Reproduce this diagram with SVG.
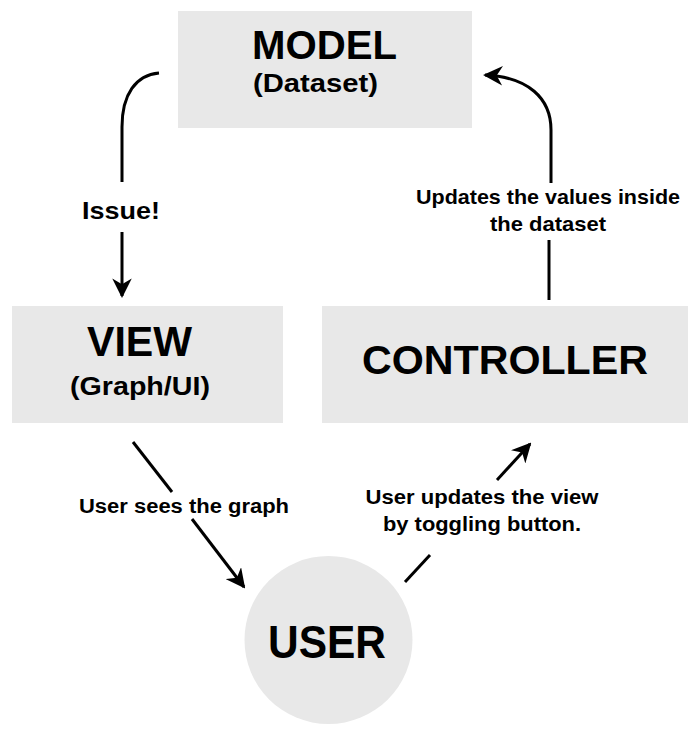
<svg xmlns="http://www.w3.org/2000/svg" width="700" height="750" viewBox="0 0 700 750">
  <style>
    .box { fill: #e8e8e8; }
    text { font-family: "Liberation Sans", Arial, sans-serif; font-weight: bold; fill: #000; text-anchor: middle; }
    .line { fill: none; stroke: #000; stroke-width: 3; }
  </style>
  <defs>
    <marker id="arrow" viewBox="0 0 10 10" refX="9" refY="5" markerWidth="6.5" markerHeight="6.5" markerUnits="strokeWidth" orient="auto">
      <path d="M0,0 L10,5 L0,10 L3,5 Z" fill="#000"/>
    </marker>
  </defs>
  <rect width="700" height="750" fill="#fff"/>

  <g id="model">
    <rect class="box" x="178" y="11" width="294" height="117"/>
    <text x="324.5" y="59" font-size="41" textLength="145" lengthAdjust="spacingAndGlyphs">MODEL</text>
    <text x="315.5" y="92" font-size="26" textLength="125" lengthAdjust="spacingAndGlyphs">(Dataset)</text>
  </g>

  <g id="view">
    <rect class="box" x="12" y="306" width="271" height="117"/>
    <text x="139.5" y="356" font-size="42" textLength="105" lengthAdjust="spacingAndGlyphs">VIEW</text>
    <text x="140" y="395" font-size="26" textLength="140" lengthAdjust="spacingAndGlyphs">(Graph/UI)</text>
  </g>

  <g id="controller">
    <rect class="box" x="322" y="306" width="366" height="117"/>
    <text x="505" y="374" font-size="41" textLength="286" lengthAdjust="spacingAndGlyphs">CONTROLLER</text>
  </g>

  <g id="user">
    <circle class="box" cx="328.5" cy="640" r="84"/>
    <text x="327" y="658" font-size="46" textLength="118" lengthAdjust="spacingAndGlyphs">USER</text>
  </g>

  <g id="connectors">
    <!-- model to view -->
    <path class="line" d="M159,73 C136,75 122,94 122,127 L122,182"/>
    <text x="121" y="219" font-size="24" textLength="78" lengthAdjust="spacingAndGlyphs">Issue!</text>
    <path class="line" d="M122,232 L122,296" marker-end="url(#arrow)"/>

    <!-- controller to model -->
    <path class="line" d="M549,300 L549,240"/>
    <text x="548" y="204" font-size="21" textLength="264" lengthAdjust="spacingAndGlyphs">Updates the values inside</text>
    <text x="548" y="231" font-size="21" textLength="116" lengthAdjust="spacingAndGlyphs">the dataset</text>
    <path class="line" d="M551,183 L551,130 C551,98 528,77 485,75" marker-end="url(#arrow)"/>

    <!-- view to user -->
    <path class="line" d="M133,442 L172,492"/>
    <text x="184" y="513" font-size="20" textLength="210" lengthAdjust="spacingAndGlyphs">User sees the graph</text>
    <path class="line" d="M192,519 L244,587" marker-end="url(#arrow)"/>

    <!-- user to controller -->
    <path class="line" d="M405,582 L430,555"/>
    <text x="482" y="504" font-size="21" textLength="233" lengthAdjust="spacingAndGlyphs">User updates the view</text>
    <text x="482" y="531" font-size="21" textLength="198" lengthAdjust="spacingAndGlyphs">by toggling button.</text>
    <path class="line" d="M497,480 L530,444" marker-end="url(#arrow)"/>
  </g>
</svg>
